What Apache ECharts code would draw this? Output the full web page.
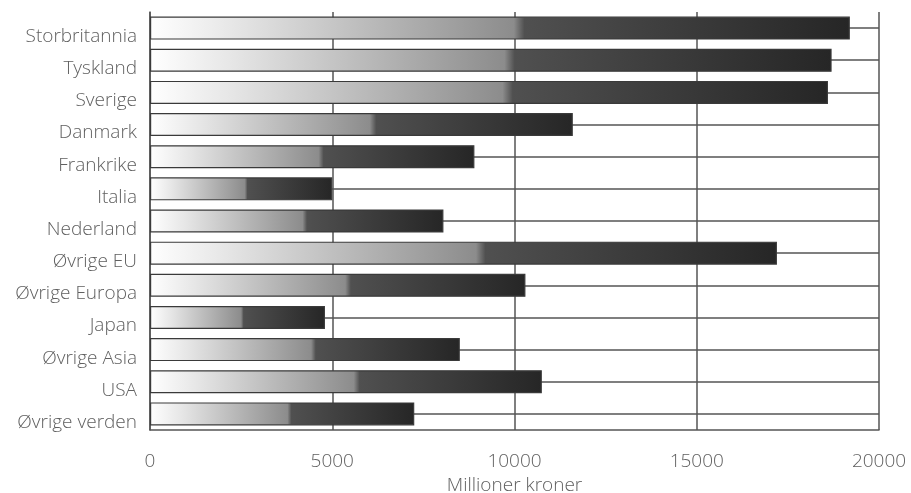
<!DOCTYPE html>
<html>
<head>
<meta charset="utf-8">
<script src="https://cdn.jsdelivr.net/npm/echarts@6/dist/echarts.min.js"></script>
<style>
html,body{margin:0;padding:0;background:#fff;}
#chart{width:911px;height:493px;}
</style>
</head>
<body>
<div id="chart"></div>
<script>
const categories = ["Storbritannia","Tyskland","Sverige","Danmark","Frankrike","Italia","Nederland","Øvrige EU","Øvrige Europa","Japan","Øvrige Asia","USA","Øvrige verden"];
const values = [19200,18700,18600,11600,8900,5000,8050,17200,10300,4800,8500,10750,7250];
const xTicks = [0,5000,10000,15000,20000];
const xAxisName = "Millioner kroner";

const chart = echarts.init(document.getElementById('chart'));
const font = "'Open Sans', 'DejaVu Sans', sans-serif";
const barGradient = new echarts.graphic.LinearGradient(0,0,1,0,[
  {offset:0, color:'#ffffff'},
  {offset:0.12, color:'#e6e6e6'},
  {offset:0.35, color:'#b2b2b2'},
  {offset:0.52, color:'#8c8c8c'},
  {offset:0.535, color:'#505050'},
  {offset:1, color:'#262626'}
]);
chart.setOption({
  animation:false,
  backgroundColor:'#ffffff',
  grid:{left:150,right:32,top:12,bottom:63,containLabel:false,outerBoundsMode:'none'},
  xAxis:{
    type:'value', min:xTicks[0], max:xTicks[xTicks.length-1], interval:5000,
    name:xAxisName, nameLocation:'middle', nameGap:44,
    nameTextStyle:{color:'#606060',fontSize:19,fontFamily:font,fontWeight:300,letterSpacing:0.6},
    axisLine:{show:true,lineStyle:{color:'#555',width:1.5}},
    axisTick:{show:false},
    axisLabel:{color:'#606060',fontSize:19,fontFamily:font,fontWeight:300,margin:22,letterSpacing:1,
      formatter:(v)=>String(v)},
    splitLine:{show:true,lineStyle:{color:'#555',width:1.5}}
  },
  yAxis:{
    type:'category', data:categories, inverse:true,
    axisLine:{show:true,lineStyle:{color:'#555',width:1.5}},
    axisTick:{show:false},
    axisLabel:{color:'#606060',fontSize:19,fontFamily:font,fontWeight:300,margin:13,
      verticalAlign:'top',lineHeight:17,letterSpacing:0.3},
    splitLine:{show:false}
  },
  series:[{
    type:'bar',
    data:values,
    barWidth:23,
    z:3,
    itemStyle:{color:barGradient,borderColor:'#3a3a3a',borderWidth:1.2},
    markLine:{
      z:1,
      silent:true,
      symbol:['none','none'],
      label:{show:false},
      lineStyle:{type:'solid',color:'#555',width:1.5},
      emphasis:{disabled:true},
      data:categories.map(c=>({yAxis:c}))
    }
  }]
});
</script>
</body>
</html>
